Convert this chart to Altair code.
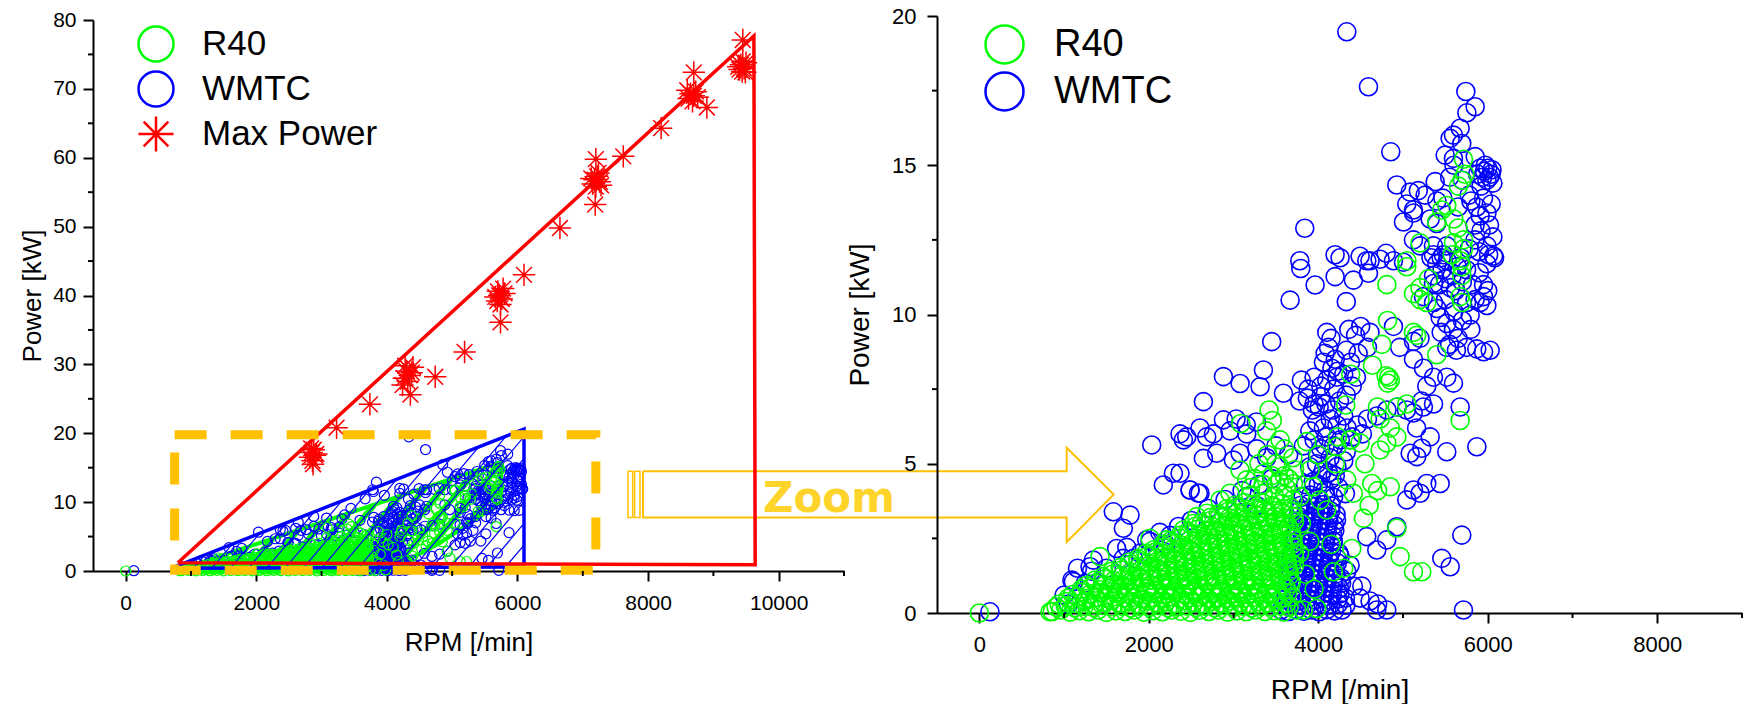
import altair as alt
import pandas as pd

# ---------------- data ----------------
# R40: dense low-load cloud (rpm, kW)
r40_dense = [
    (860,0.05),(960,0.1),(1070,0.03),(1180,0.08),(1290,0.04),(1400,0.1),(1500,0.02),(1610,0.07),(1720,0.05),(1830,0.1),
    (1940,0.03),(2050,0.08),(2160,0.04),(2270,0.1),(2380,0.06),(2490,0.02),(2600,0.09),(2710,0.05),(2820,0.1),(2930,0.03),
    (3040,0.07),(3150,0.04),(3260,0.1),(3370,0.05),(3480,0.08),(3590,0.03),
    (940,0.3),(1030,0.38),(1140,0.32),(1250,0.4),(1350,0.3),(1460,0.36),(1560,0.42),(1670,0.33),(1780,0.38),(1880,0.3),
    (1990,0.4),(2100,0.34),(2200,0.37),(2310,0.31),(2420,0.42),(2530,0.35),(2640,0.3),(2740,0.39),(2850,0.33),(2960,0.41),
    (3070,0.35),(3180,0.3),(3290,0.38),(3400,0.34),(3510,0.4),(3620,0.32),
    (1100,0.62),(1200,0.7),(1310,0.64),(1420,0.68),(1530,0.6),(1640,0.7),(1750,0.65),(1860,0.62),(1970,0.71),(2080,0.66),
    (2190,0.6),(2300,0.69),(2410,0.64),(2520,0.7),(2630,0.62),(2740,0.67),(2850,0.72),(2960,0.63),(3070,0.68),(3180,0.61),
    (3290,0.7),(3400,0.65),(3510,0.6),(3640,0.68),
    (1260,0.92),(1370,1.0),(1480,0.94),(1590,0.98),(1700,0.9),(1810,0.97),(1920,1.02),(2030,0.93),(2140,0.99),(2250,0.92),
    (2360,1.0),(2470,0.95),(2580,0.9),(2690,0.98),(2800,0.94),(2910,1.01),(3020,0.93),(3130,0.97),(3240,0.91),(3350,1.0),
    (3460,0.95),(3570,0.92),(3680,0.99),
    (1460,1.22),(1570,1.3),(1680,1.24),(1790,1.28),(1900,1.2),(2010,1.27),(2120,1.32),(2230,1.23),(2340,1.29),(2450,1.21),
    (2560,1.3),(2670,1.25),(2780,1.2),(2890,1.28),(3000,1.24),(3110,1.31),(3220,1.22),(3330,1.27),(3440,1.21),(3550,1.3),
    (3660,1.25),
    (1660,1.52),(1770,1.6),(1880,1.54),(1990,1.58),(2100,1.5),(2210,1.57),(2320,1.62),(2430,1.53),(2540,1.59),(2650,1.51),
    (2760,1.6),(2870,1.55),(2980,1.5),(3090,1.58),(3200,1.54),(3310,1.61),(3420,1.52),(3530,1.57),(3640,1.53),(3720,1.6),
    (1870,1.82),(1980,1.9),(2090,1.84),(2200,1.88),(2310,1.8),(2420,1.87),(2530,1.92),(2640,1.83),(2750,1.89),(2860,1.81),
    (2970,1.9),(3080,1.85),(3190,1.8),(3300,1.88),(3410,1.84),(3520,1.91),(3630,1.82),(3720,1.88),
    (2060,2.12),(2170,2.2),(2280,2.14),(2390,2.18),(2500,2.1),(2610,2.17),(2720,2.22),(2830,2.13),(2940,2.19),(3050,2.11),
    (3160,2.2),(3270,2.15),(3380,2.1),(3490,2.18),(3600,2.14),(3710,2.2),
    (2260,2.42),(2370,2.5),(2480,2.44),(2590,2.48),(2700,2.4),(2810,2.47),(2920,2.52),(3030,2.43),(3140,2.49),(3250,2.41),
    (3360,2.5),(3470,2.45),(3580,2.4),(3700,2.48),
    (2460,2.72),(2570,2.8),(2680,2.74),(2790,2.78),(2900,2.7),(3010,2.77),(3120,2.82),(3230,2.73),(3340,2.79),(3450,2.71),
    (3560,2.8),(3680,2.75),
    (2620,3.02),(2730,3.1),(2840,3.04),(2950,3.08),(3060,3.0),(3170,3.07),(3280,3.12),(3390,3.03),(3500,3.09),(3610,3.01),
    (3720,3.08),
    (2820,3.32),(2930,3.4),(3040,3.34),(3150,3.38),(3260,3.3),(3370,3.37),(3480,3.42),(3590,3.33),(3700,3.4),
    (3020,3.62),(3130,3.7),(3240,3.64),(3350,3.68),(3460,3.6),(3570,3.67),
    (3200,3.95),(3350,4.0),(3480,3.92),(3600,3.98),
]
# R40: second, staggered layer of the dense cloud
r40_dense2 = [
    (905,0.2),(1015,0.24),(1125,0.18),(1235,0.22),(1345,0.19),(1455,0.25),(1565,0.2),(1675,0.23),(1785,0.17),(1895,0.22),
    (2005,0.2),(2115,0.25),(2225,0.18),(2335,0.21),(2445,0.24),(2555,0.19),(2665,0.22),(2775,0.18),(2885,0.25),(2995,0.2),
    (3105,0.23),(3215,0.17),(3325,0.22),(3435,0.2),(3545,0.24),(3655,0.19),
    (1045,0.5),(1155,0.54),(1265,0.48),(1375,0.52),(1485,0.49),(1595,0.55),(1705,0.5),(1815,0.53),(1925,0.47),(2035,0.52),
    (2145,0.5),(2255,0.55),(2365,0.48),(2475,0.51),(2585,0.54),(2695,0.49),(2805,0.52),(2915,0.48),(3025,0.55),(3135,0.5),
    (3245,0.53),(3355,0.47),(3465,0.52),(3575,0.5),(3690,0.54),
    (1205,0.8),(1315,0.84),(1425,0.78),(1535,0.82),(1645,0.79),(1755,0.85),(1865,0.8),(1975,0.83),(2085,0.77),(2195,0.82),
    (2305,0.8),(2415,0.85),(2525,0.78),(2635,0.81),(2745,0.84),(2855,0.79),(2965,0.82),(3075,0.78),(3185,0.85),(3295,0.8),
    (3405,0.83),(3515,0.77),(3625,0.82),
    (1365,1.1),(1475,1.14),(1585,1.08),(1695,1.12),(1805,1.09),(1915,1.15),(2025,1.1),(2135,1.13),(2245,1.07),(2355,1.12),
    (2465,1.1),(2575,1.15),(2685,1.08),(2795,1.11),(2905,1.14),(3015,1.09),(3125,1.12),(3235,1.08),(3345,1.15),(3455,1.1),
    (3565,1.13),(3675,1.07),
    (1565,1.4),(1675,1.44),(1785,1.38),(1895,1.42),(2005,1.39),(2115,1.45),(2225,1.4),(2335,1.43),(2445,1.37),(2555,1.42),
    (2665,1.4),(2775,1.45),(2885,1.38),(2995,1.41),(3105,1.44),(3215,1.39),(3325,1.42),(3435,1.38),(3545,1.45),(3655,1.4),
    (1765,1.7),(1875,1.74),(1985,1.68),(2095,1.72),(2205,1.69),(2315,1.75),(2425,1.7),(2535,1.73),(2645,1.67),(2755,1.72),
    (2865,1.7),(2975,1.75),(3085,1.68),(3195,1.71),(3305,1.74),(3415,1.69),(3525,1.72),(3635,1.68),
    (1965,2.0),(2075,2.04),(2185,1.98),(2295,2.02),(2405,1.99),(2515,2.05),(2625,2.0),(2735,2.03),(2845,1.97),(2955,2.02),
    (3065,2.0),(3175,2.05),(3285,1.98),(3395,2.01),(3505,2.04),(3615,1.99),(3720,2.02),
    (2165,2.3),(2275,2.34),(2385,2.28),(2495,2.32),(2605,2.29),(2715,2.35),(2825,2.3),(2935,2.33),(3045,2.27),(3155,2.32),
    (3265,2.3),(3375,2.35),(3485,2.28),(3595,2.31),(3705,2.34),
    (2365,2.6),(2475,2.64),(2585,2.58),(2695,2.62),(2805,2.59),(2915,2.65),(3025,2.6),(3135,2.63),(3245,2.57),(3355,2.62),
    (3465,2.6),(3575,2.65),(3690,2.58),
    (2545,2.9),(2655,2.94),(2765,2.88),(2875,2.92),(2985,2.89),(3095,2.95),(3205,2.9),(3315,2.93),(3425,2.87),(3535,2.92),
    (3645,2.9),
    (2725,3.2),(2835,3.24),(2945,3.18),(3055,3.22),(3165,3.19),(3275,3.25),(3385,3.2),(3495,3.23),(3605,3.17),(3710,3.22),
    (2925,3.5),(3035,3.54),(3145,3.48),(3255,3.52),(3365,3.49),(3475,3.55),(3585,3.5),(3680,3.53),
    (3350,4.3),(3450,4.6),(3550,4.9),(3650,4.5),(3720,4.8),(3400,5.3),(3600,5.5),(3500,5.0),(3250,4.5),(3700,3.8),
    (3620,4.2),(3540,4.4),
]
# R40: scattered points
r40_scatter = [
    (0,0.0),(834,0.04),(1424,1.89),(2014,2.5),(2211,2.45),(2407,2.78),(2525,3.0),(2565,3.23),(2683,3.34),(2840,3.78),
    (2958,4.01),(3076,4.79),(3155,4.46),(3352,4.68),(3200,4.2),(3300,5.0),(3500,4.3),(3600,4.6),(3706,4.34),(3785,3.9),
    (3942,4.23),(4020,3.78),(4099,3.45),(3800,3.0),(3900,2.4),(3780,2.0),(3686,1.66),(3850,1.3),(3950,0.8),(3746,0.1),
    (3824,0.1),(3981,0.15),(4178,1.38),(4300,1.5),(4150,2.3),(4395,2.16),(4533,3.17),(4600,3.6),(4700,4.1),(4926,2.84),
    (4966,1.89),(5123,1.38),(5221,1.38),(3903,4.79),(4336,4.46),(4414,4.01),(4631,4.34),(4848,4.23),(4550,5.0),(4200,5.0),
    (4000,5.3),(3700,5.2),(3864,5.74),(3549,5.8),(3391,6.1),(4218,5.57),(4375,5.8),(4493,5.7),(4729,5.46),(4808,5.7),
    (4926,5.9),(4226,5.9),(4383,5.8),(3419,6.8),(3458,6.45),(3085,6.35),(4324,6.97),(4698,6.9),(4730,6.5),(4850,6.2),
    (4930,6.9),(5044,7.0),(5674,6.45),(4383,8.0),(4639,8.3),(4830,7.9),(4850,7.8),(4800,7.95),(4820,7.7),(4750,9.0),
    (5398,8.65),(4817,9.8),(5123,9.4),(5160,9.3),(5123,10.7),(5201,10.5),(5280,10.4),(5200,10.9),(5300,11.2),(4809,11.0),
    (5045,11.8),(5044,11.6),(5674,11.8),(5693,11.3),(5674,10.6),(5693,10.4),(5580,12.0),(5693,11.6),(5713,12.2),(5713,12.5),
    (5595,12.4),(5201,12.4),(5650,12.9),(5600,13.2),(5398,13.1),(5457,13.5),(5516,13.65),(5654,14.3),(5693,14.5),(5730,14.7),
    (5713,15.2),
]
# WMTC: dense column around 3500-4300 rpm
wmtc_column = [
    (3560,0.1),(3650,0.05),(3740,0.12),(3830,0.06),(3920,0.1),(4010,0.04),(4100,0.11),(4190,0.07),(4280,0.1),
    (3600,0.45),(3690,0.5),(3780,0.42),(3870,0.48),(3960,0.44),(4050,0.5),(4140,0.43),(4230,0.47),(4320,0.5),
    (3620,0.8),(3710,0.85),(3800,0.78),(3890,0.84),(3980,0.8),(4070,0.86),(4160,0.79),(4250,0.83),
    (3640,1.15),(3730,1.2),(3820,1.12),(3910,1.18),(4000,1.14),(4090,1.2),(4180,1.13),(4270,1.17),
    (3660,1.5),(3750,1.55),(3840,1.47),(3930,1.53),(4020,1.49),(4110,1.55),(4200,1.48),
    (3680,1.85),(3770,1.9),(3860,1.82),(3950,1.88),(4040,1.84),(4130,1.9),(4220,1.83),
    (3700,2.2),(3790,2.25),(3880,2.17),(3970,2.23),(4060,2.19),(4150,2.25),
    (3720,2.55),(3810,2.6),(3900,2.52),(3990,2.58),(4080,2.54),(4170,2.6),
    (3740,2.9),(3830,2.95),(3920,2.87),(4010,2.93),(4100,2.89),(4190,2.95),
    (3760,3.25),(3850,3.3),(3940,3.22),(4030,3.28),(4120,3.24),(4210,3.3),
    (3790,3.6),(3880,3.65),(3970,3.57),(4060,3.63),(4150,3.59),
    (3605,0.28),(3695,0.3),(3785,0.26),(3875,0.29),(3965,0.27),(4055,0.31),(4145,0.28),(4235,0.3),(4325,0.26),
    (3625,0.63),(3715,0.66),(3805,0.61),(3895,0.65),(3985,0.62),(4075,0.66),(4165,0.6),(4255,0.64),
    (3645,0.98),(3735,1.0),(3825,0.96),(3915,0.99),(4005,0.97),(4095,1.01),(4185,0.98),(4275,1.0),
    (3665,1.33),(3755,1.36),(3845,1.31),(3935,1.35),(4025,1.32),(4115,1.36),(4205,1.3),
    (3685,1.68),(3775,1.7),(3865,1.66),(3955,1.69),(4045,1.67),(4135,1.71),(4225,1.68),
    (3705,2.03),(3795,2.06),(3885,2.01),(3975,2.05),(4065,2.02),(4155,2.06),(4245,2.0),
    (3725,2.38),(3815,2.4),(3905,2.36),(3995,2.39),(4085,2.37),(4175,2.41),
    (3745,2.73),(3835,2.76),(3925,2.71),(4015,2.75),(4105,2.72),(4195,2.76),
    (3765,3.08),(3855,3.1),(3945,3.06),(4035,3.09),(4125,3.07),(4215,3.11),
    (3785,3.43),(3875,3.46),(3965,3.41),(4055,3.45),(4145,3.42),
    (3820,3.9),(3910,3.95),(4000,3.85),(4090,3.92),(4180,3.88),(3850,4.3),(3940,4.4),(4030,4.6),(4120,4.7),(4200,4.6),
    (3900,4.9),(3990,5.3),(4080,5.6),
    (3950,5.8),(4030,5.5),(4100,5.9),(4180,5.6),(4260,5.8),(4330,5.4),(3980,5.0),(4060,4.8),(4140,5.2),(4220,4.9),
    (4300,5.1),(4000,4.3),(4080,4.1),(4160,4.5),(4240,4.2),(4320,4.0),
    (3900,6.1),(3980,6.4),(4060,6.2),(4140,6.5),(4220,6.3),(4300,6.6),(3930,6.8),(4010,6.9),(4090,7.0),(4170,6.8),
    (4250,7.1),(4330,7.3),(4400,7.6),(4450,7.9),(4300,8.0),(4230,8.1),
]
# WMTC: scattered points
wmtc_scatter = [
    (125,0.04),(1000,0.6),(1050,0.3),(1092,1.1),(1109,1.05),(1158,1.5),(1250,1.0),(1306,1.55),(1324,1.4),(1345,1.77),
    (1500,1.5),(1581,3.39),(1620,2.16),(1699,2.84),(1699,1.83),(1740,2.2),(1778,3.28),(1817,1.83),(1900,2.0),(1975,2.45),
    (2014,2.4),(2034,5.63),(2130,2.7),(2171,4.29),(2200,2.3),(2250,2.6),(2290,4.68),(2350,2.9),(2368,4.68),(2368,6.0),
    (2408,5.8),(2447,5.9),(2486,4.12),(2487,4.12),(2500,3.1),(2585,4.01),(2604,4.01),(2604,6.2),(2644,5.18),(2644,7.08),
    (2683,5.9),(2700,3.5),(2762,6.0),(2801,5.35),(2880,6.47),(2880,7.92),(2900,3.8),(2958,6.1),(2998,5.12),(3030,6.5),
    (3077,5.35),(3077,7.69),(3100,4.1),(3150,6.3),(3155,6.0),(3155,3.9),(3270,6.4),(3273,5.5),(3273,3.6),(3300,4.3),
    (3313,7.58),(3352,8.14),(3390,5.2),(3450,4.5),(3450,9.09),(3500,5.6),(3588,7.36),(3650,5.3),(3667,10.48),(3782,11.8),
    (3793,11.54),(3824,5.6),(3840,12.89),(3962,10.99),
    (3800,7.8),(3880,7.5),(3950,7.9),(4030,7.6),(4100,7.8),(4180,7.5),(4220,7.9),(3780,7.1),(3870,7.2),(4030,7.25),(3950,7.0),
    (4020,3.4),(4099,2.9),(4178,2.4),(4257,1.9),(4336,1.4),(4414,0.9),(4493,0.5),(4375,1.6),(4513,0.9),(4611,0.4),
    (4700,0.3),(4808,0.1),(4690,0.1),(4572,2.56),(4690,2.11),(4808,2.45),(4926,2.89),(5044,3.79),(5123,4.12),(5201,4.01),
    (5280,4.34),(5438,4.34),(5162,5.24),(5084,5.35),(5221,5.52),(5516,5.4),(5871,5.57),(5693,2.61),(5457,1.83),(5556,1.55),
    (5713,0.1),
    (4340,6.2),(4460,6.3),(4580,6.5),(4690,6.6),(4810,6.8),(4930,6.9),(5040,6.8),(5120,6.7),(5240,6.9),(5360,7.0),
    (5160,6.2),(5320,5.9),(4400,5.9),(4520,6.0),(5674,6.9),(5220,7.1),
    (4100,9.4),(4150,9.2),(4120,8.9),(4080,8.7),(4060,8.4),(4200,8.5),(4160,8.2),(4360,9.5),(4440,9.3),(4500,9.6),
    (4610,9.4),(4580,8.9),(4470,8.7),(4380,8.4),(4330,8.8),(4887,9.6),(4960,8.9),(5123,9.1),(5200,9.2),(5516,8.9),
    (5630,8.8),(5750,8.9),(5870,8.85),(5950,8.75),(6028,8.8),(5123,8.5),(5241,8.2),(5359,7.9),(5280,7.6),(5516,7.9),
    (5595,7.7),
    (4198,12.0),(4572,11.8),(4800,12.05),(4198,11.27),(4414,11.15),(4592,11.38),(4330,10.43),(4257,11.9),(4493,11.95),
    (4610,11.8),(4729,11.85),(4887,11.8),(5005,11.75),
    (5330,11.9),(5400,11.7),(5460,11.5),(5520,11.8),(5580,11.3),(5640,11.6),(5700,11.1),(5360,11.3),(5430,11.0),(5500,11.2),
    (5560,10.9),(5620,10.8),(5450,11.9),(5680,11.9),(5359,11.04),(5241,10.6),(5359,10.4),(5910,10.4),(5989,10.3),(5792,9.98),
    (5438,9.9),(5516,9.7),(5595,9.5),(6068,11.96),(5989,11.7),(5850,10.5),(5950,10.6),(5750,10.4),
    (5400,10.2),(5500,10.5),(5600,10.1),(5700,9.8),(5800,9.5),(5450,9.4),(5550,9.0),(5650,9.2),(5850,12.5),(5780,12.2),
    (5750,11.5),(5820,11.0),(5900,11.4),(5950,11.0),(6000,10.8),
    (5123,13.4),(5005,13.1),(5320,13.2),(5398,13.05),(5123,12.5),(5201,12.3),(5359,12.3),(5516,12.3),(5476,12.0),(5359,12.0),
    (5800,13.8),(5870,13.6),(5910,13.3),(5990,13.4),(6020,13.0),(5920,12.8),(6060,12.6),(5990,12.3),(6010,12.0),(6080,11.9),
    (5900,12.1),(5850,13.0),(5950,13.9),(6040,13.7),
    (4926,14.34),(5084,14.1),(5180,14.15),(5260,14.0),(5379,14.45),(5044,13.7),(5123,13.5),(5400,13.8),(5470,13.9),
    (5780,14.0),(5700,14.5),(5650,13.6),(5550,14.6),(5600,15.0),
    (5910,14.9),(5960,14.8),(6000,14.9),(6040,14.7),(5940,14.6),(5990,14.5),(6060,14.4),(5920,14.3),(5970,15.0),(6020,14.6),
    (5880,14.7),(6050,14.85),
    (4855,15.45),(5497,15.34),(5595,15.23),(5851,15.29),(5693,15.73),(5556,15.9),(5595,16.01),(5674,16.24),(5753,16.76),
    (5851,16.96),(5741,17.47),(4592,17.63),(4336,19.47),
]
# Max power points
max_rpm = [2850,2900,2820,2880,2860,2920,2840,2870,3230,3740,
           4300,4350,4260,4400,4320,4280,4380,4240,4360,4740,5190,
           5720,5760,5690,5800,5740,5700,5780,5660,5740,6100,6650,
           7180,7220,7150,7260,7200,7240,7130,7280,7190,7200,7620,8200,
           8650,8700,8620,8730,8680,8760,8600,8900,8700,
           9420,9470,9500,9440,9380,9490,9450,9400,9450]
max_kw  = [17.2,16.8,16.5,17.6,16.0,17.0,17.8,15.5,20.8,24.2,
           29.0,28.4,28.0,29.6,27.5,29.8,28.8,27.0,25.6,28.2,31.8,
           40.0,39.5,39.2,40.3,38.7,40.6,41.0,39.8,36.1,43.0,49.8,
           56.8,57.3,56.2,56.5,55.8,57.8,57.0,56.0,53.2,59.8,60.2,64.3,
           69.3,69.0,68.6,69.6,68.2,68.8,69.8,67.3,72.4,
           73.5,73.0,73.8,72.5,73.2,72.4,74.0,72.8,77.1]
# envelopes (closed polygons)
max_env_rpm = [800, 9620, 9640, 800]
max_env_kw = [1.2, 77.7, 0.9, 1.2]
wmtc_env_rpm = [700, 6100, 6100, 700]
wmtc_env_kw = [0.4, 20.6, 0.6, 0.4]
r40_env_rpm = [800, 5750, 5750, 4800, 4000, 800]
r40_env_kw = [0.1, 15.8, 10.0, 4.0, 0.1, 0.1]
# zoom window
zoom_rpm = [750, 7200]
zoom_kw = [0.1, 19.8]
# annotation arrow (left-panel data units)
arrow_rpm = [7922, 14410, 14410, 15130, 14410, 14410, 7922, 7922]
arrow_kw = [14.5, 14.5, 17.9, 11.1, 4.2, 7.75, 7.75, 14.5]
arrow_tail_rpm = [(7692, 7764), (7794, 7876)]
arrow_tail_kw = (7.75, 14.5)
zoom_label = ("Zoom", 10770, 8.6)

SERIES = ["R40", "WMTC", "Max Power"]
COLORS = ["#00ff00", "#0000ff", "#ff0000"]
STAR = "M0,-1L0,1M-1,0L1,0M-0.7071,-0.7071L0.7071,0.7071M-0.7071,0.7071L0.7071,-0.7071"
FONT = "Liberation Sans"
GOLD = "#FFC000"

# ---------------- tables ----------------
pts = pd.DataFrame(
    [{"rpm": a, "kw": b, "series": "WMTC"} for a, b in wmtc_scatter + wmtc_column]
    + [{"rpm": a, "kw": b, "series": "R40"} for a, b in r40_dense + r40_dense2 + r40_scatter]
)
stars = pd.DataFrame({"rpm": max_rpm, "kw": max_kw, "series": "Max Power"})


def poly_df(xs, ys):
    return pd.DataFrame({"rpm": xs, "kw": ys, "i": list(range(len(xs)))})


def hatch(xs, ys, k, step, offset):
    vals = [x - k * y for x, y in zip(xs, ys)]
    lo, hi = min(vals), max(vals)
    segs = []
    c = lo + offset
    while c < hi:
        cuts = []
        for i in range(len(xs) - 1):
            x1, y1, x2, y2 = xs[i], ys[i], xs[i + 1], ys[i + 1]
            g1 = x1 - k * y1 - c
            g2 = x2 - k * y2 - c
            if (g1 < 0) != (g2 < 0):
                t = g1 / (g1 - g2)
                cuts.append((y1 + t * (y2 - y1), x1 + t * (x2 - x1)))
        cuts.sort()
        for j in range(0, len(cuts) - 1, 2):
            segs.append({"rpm": cuts[j][1], "kw": cuts[j][0], "rpm2": cuts[j + 1][1], "kw2": cuts[j + 1][0]})
        c += step
    return pd.DataFrame(segs)


K = 89.0
STEP = 280.0
blue_hatch = hatch(wmtc_env_rpm, wmtc_env_kw, K, STEP, 60)
green_hatch = hatch(r40_env_rpm, r40_env_kw, K, STEP, 200)

ax = dict(grid=False, domainColor="black", domainWidth=2, tickColor="black", tickWidth=2,
          tickSize=10, labelFont=FONT, labelColor="black", titleFont=FONT, titleColor="black",
          titleFontWeight="normal", labelFlush=False, labelOverlap=False, format="d")

# ---------------- left panel ----------------
LW, LH = 751, 555
XL = alt.Scale(domain=[-500, 11000], nice=False, zero=False)
YL = alt.Scale(domain=[0, 80], nice=False, zero=False, range=[LH, 4])
AXL = alt.Axis(values=list(range(0, 10001, 2000)), title="RPM [/min]", labelFontSize=21,
               titleFontSize=26, labelPadding=11, titlePadding=16, **ax)
AYL = alt.Axis(values=list(range(0, 81, 10)), title="Power [kW]", labelFontSize=21,
               titleFontSize=26, labelPadding=7, titlePadding=7, **ax)

leg_l = dict(title=None, orient="none", legendX=44, legendY=9, padding=0, symbolSize=1225,
             symbolStrokeWidth=2.5, labelFontSize=35, labelFont=FONT, labelColor="black",
             rowPadding=-1, labelOffset=27, labelLimit=500)
color_l = alt.Color("series:N", scale=alt.Scale(domain=SERIES, range=COLORS), legend=alt.Legend(**leg_l))
shape_l = alt.Shape("series:N", scale=alt.Scale(domain=SERIES, range=["circle", "circle", STAR]),
                    legend=alt.Legend(**leg_l))


def XLe(f="rpm"):
    return alt.X(f"{f}:Q", scale=XL, axis=AXL)


def YLe(f="kw"):
    return alt.Y(f"{f}:Q", scale=YL, axis=AYL)


l_ghatch = alt.Chart(green_hatch).mark_rule(color="#00ff00", strokeWidth=6).encode(
    x=XLe(), y=YLe(), x2="rpm2:Q", y2="kw2:Q")
l_genv = alt.Chart(poly_df(r40_env_rpm, r40_env_kw)).mark_line(color="#00ff00", strokeWidth=4).encode(
    x=XLe(), y=YLe(), order="i:Q")

l_pts = alt.Chart(pts).mark_point(filled=False, size=100, strokeWidth=1.2, opacity=1).encode(
    x=XLe(), y=YLe(), color=color_l, shape=shape_l)

l_bhatch = alt.Chart(blue_hatch).mark_rule(color="#0000ff", strokeWidth=1.2).encode(
    x=XLe(), y=YLe(), x2="rpm2:Q", y2="kw2:Q")

l_benv = alt.Chart(poly_df(wmtc_env_rpm, wmtc_env_kw)).mark_line(color="#0000ff", strokeWidth=3.5).encode(
    x=XLe(), y=YLe(), order="i:Q")

l_arrow = alt.Chart(poly_df(arrow_rpm, arrow_kw)).mark_line(color=GOLD, strokeWidth=2).encode(
    x=XLe(), y=YLe(), order="i:Q")
tail = pd.DataFrame([{"rpm": a, "rpm2": b, "kw": arrow_tail_kw[0], "kw2": arrow_tail_kw[1]} for a, b in arrow_tail_rpm])
l_tail = alt.Chart(tail).mark_rect(fillOpacity=0, stroke=GOLD, strokeWidth=1.5).encode(
    x=XLe(), x2="rpm2:Q", y=YLe(), y2="kw2:Q")

l_renv = alt.Chart(poly_df(max_env_rpm, max_env_kw)).mark_line(color="#ff0000", strokeWidth=3.5).encode(
    x=XLe(), y=YLe(), order="i:Q")

l_stars = alt.Chart(stars).mark_point(filled=False, size=500, strokeWidth=1.5, opacity=1).encode(
    x=XLe(), y=YLe(), color=color_l, shape=shape_l)

zbox = pd.DataFrame({"rpm": [zoom_rpm[0]], "rpm2": [zoom_rpm[1]], "kw": [zoom_kw[0]], "kw2": [zoom_kw[1]]})
l_zbox = alt.Chart(zbox).mark_rect(fillOpacity=0, stroke=GOLD, strokeWidth=9, strokeDash=[32, 24]).encode(
    x=XLe(), x2="rpm2:Q", y=YLe(), y2="kw2:Q")

ztxt = pd.DataFrame({"t": [zoom_label[0]], "rpm": [zoom_label[1]], "kw": [zoom_label[2]]})
l_ztxt = alt.Chart(ztxt).mark_text(font="DejaVu Sans", fontWeight="bold", fontSize=42, color="#FFD42A",
                                   align="center", baseline="alphabetic").encode(
    x=XLe(), y=YLe(), text="t:N")

l_minx = alt.Chart(pd.DataFrame({"rpm": list(range(1000, 11001, 2000))})).mark_rule(color="black", strokeWidth=2).encode(
    x=XLe(), y=alt.value(LH), y2=alt.value(LH + 5))
l_miny = alt.Chart(pd.DataFrame({"kw": list(range(5, 80, 10))})).mark_rule(color="black", strokeWidth=2).encode(
    y=YLe(), x=alt.value(0), x2=alt.value(-5))

left = alt.layer(l_ghatch, l_genv, l_pts, l_bhatch, l_benv, l_arrow, l_tail, l_renv, l_stars,
                 l_zbox, l_ztxt, l_minx, l_miny).properties(width=LW, height=LH)

# ---------------- right panel ----------------
RW, RH = 805, 597
XR = alt.Scale(domain=[-500, 9000], nice=False, zero=False)
YR = alt.Scale(domain=[0, 20], nice=False, zero=False)
AXR = alt.Axis(values=list(range(0, 8001, 2000)), title="RPM [/min]", labelFontSize=22,
               titleFontSize=28, labelPadding=11, titlePadding=21, **ax)
AYR = alt.Axis(values=[0, 5, 10, 15, 20], title="Power [kW]", labelFontSize=22,
               titleFontSize=28, labelPadding=11, titlePadding=17, **ax)

r_pts = alt.Chart(pts).mark_point(filled=False, shape="circle", size=324, strokeWidth=1.6, opacity=1).encode(
    x=alt.X("rpm:Q", scale=XR, axis=AXR),
    y=alt.Y("kw:Q", scale=YR, axis=AYR),
    color=alt.Color("series:N", scale=alt.Scale(domain=SERIES[:2], range=COLORS[:2]),
                    legend=alt.Legend(title=None, orient="none", legendX=47, legendY=8, padding=0,
                                      symbolSize=1444, symbolStrokeWidth=2.5, labelFontSize=38,
                                      labelFont=FONT, labelColor="black", rowPadding=-2,
                                      labelOffset=29, symbolType="circle", labelLimit=500)))
r_minx = alt.Chart(pd.DataFrame({"rpm": list(range(1000, 9001, 2000))})).mark_rule(color="black", strokeWidth=2).encode(
    x=alt.X("rpm:Q", scale=XR, axis=AXR), y=alt.value(RH), y2=alt.value(RH + 5))
r_miny = alt.Chart(pd.DataFrame({"kw": [2.5, 7.5, 12.5, 17.5]})).mark_rule(color="black", strokeWidth=2).encode(
    y=alt.Y("kw:Q", scale=YR, axis=AYR), x=alt.value(0), x2=alt.value(-5))

right = alt.layer(r_pts, r_minx, r_miny).properties(width=RW, height=RH)

chart = alt.hconcat(left, right, spacing=93, bounds="flush").resolve_scale(
    color="independent", shape="independent").resolve_legend(
    color="independent", shape="independent").properties(
    padding={"left": 19, "top": 5, "right": 4, "bottom": 0}).configure_view(strokeWidth=0)

chart.save("out.html", embed_options={"renderer": "svg", "actions": False})
